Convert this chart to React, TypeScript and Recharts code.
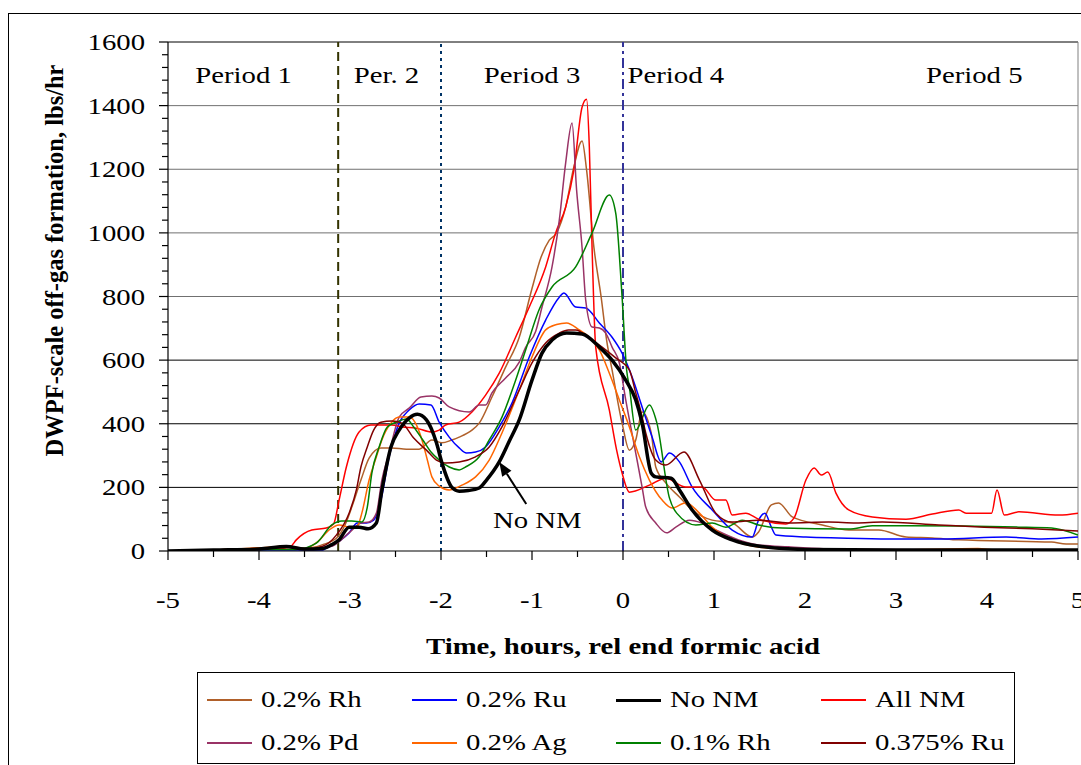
import React from 'react';
import { LineChart, Line, XAxis, YAxis, ReferenceLine, ReferenceDot } from 'recharts';

// time (h, relative to end of formic acid) vs off-gas rate (lbs/hr)
const rh02: [number, number][] = [
  [-5, 0], [-4.5, 3], [-4, 8], [-3.7, 12], [-3.5, 8], [-3.3, 20], [-3.15, 40], [-3.05, 85], [-2.98, 138],
  [-2.88, 223], [-2.79, 292], [-2.66, 324], [-2.54, 324], [-2.38, 320], [-2.24, 320], [-2.1, 349], [-1.99, 340],
  [-1.88, 349], [-1.8, 358], [-1.66, 380], [-1.58, 402], [-1.44, 484], [-1.29, 578], [-1.14, 672], [-1.0, 825],
  [-0.9, 924], [-0.81, 977], [-0.73, 1000], [-0.63, 1081], [-0.54, 1207], [-0.45, 1289], [-0.4, 1197],
  [-0.32, 955], [-0.24, 798], [-0.18, 663], [-0.12, 569], [-0.01, 402], [0.07, 317], [0.14, 349], [0.21, 437],
  [0.31, 371], [0.36, 264], [0.47, 214], [0.62, 170], [0.76, 129], [0.98, 97], [1.2, 88], [1.42, 44], [1.49, 60],
  [1.63, 145], [1.71, 151], [1.86, 107], [2.19, 82], [2.48, 66], [2.81, 66], [3.11, 44], [3.4, 41], [3.69, 35],
  [4.71, 28], [4.87, 22], [5, 22],
];
const ru02: [number, number][] = [
  [-5, 0], [-4, 3], [-3.5, 3], [-3.3, 3], [-3.26, 9], [-3.1, 35], [-3.01, 57], [-2.92, 88], [-2.82, 88],
  [-2.74, 97], [-2.66, 160], [-2.57, 296], [-2.46, 402], [-2.35, 443], [-2.24, 462], [-2.11, 459], [-2.02, 405],
  [-1.91, 358], [-1.8, 324], [-1.72, 308], [-1.62, 311], [-1.51, 327], [-1.36, 390], [-1.22, 465], [-1.03, 610],
  [-0.85, 726], [-0.7, 798], [-0.65, 811], [-0.52, 767], [-0.41, 764], [-0.26, 717], [-0.12, 672], [-0.01, 622],
  [0.1, 547], [0.21, 453], [0.32, 358], [0.42, 280], [0.51, 308], [0.62, 280], [0.76, 201], [0.98, 129],
  [1.2, 66], [1.42, 44], [1.49, 97], [1.56, 119], [1.63, 75], [1.68, 50], [2.01, 44], [2.37, 41], [2.92, 38],
  [3.5, 38], [4.21, 44], [4.6, 38], [5, 44],
];
const noNm: [number, number][] = [
  [-5, 0], [-4.5, 3], [-4, 6], [-3.7, 14], [-3.5, 6], [-3.3, 8], [-3.2, 20], [-3.12, 35], [-3.01, 75], [-2.9, 75],
  [-2.8, 70], [-2.71, 88], [-2.65, 190], [-2.55, 327], [-2.46, 380], [-2.35, 418], [-2.26, 430], [-2.16, 412],
  [-2.05, 340], [-1.99, 277], [-1.88, 200], [-1.8, 188], [-1.7, 190], [-1.58, 198], [-1.5, 223], [-1.36, 280],
  [-1.25, 345], [-1.14, 412], [-1.0, 537], [-0.89, 622], [-0.78, 663], [-0.62, 685], [-0.45, 682], [-0.26, 641],
  [-0.12, 600], [0.03, 537], [0.14, 475], [0.21, 402], [0.31, 245], [0.36, 233], [0.53, 229], [0.62, 192],
  [0.76, 129], [0.98, 66], [1.2, 35], [1.5, 15], [2, 5], [3, 3], [4, 3], [5, 3],
];
const allNm: [number, number][] = [
  [-5, 0], [-4.5, 3], [-4, 5], [-3.75, 8], [-3.65, 15], [-3.59, 35], [-3.42, 66], [-3.26, 72], [-3.18, 85],
  [-3.12, 160], [-3.04, 264], [-2.9, 374], [-2.77, 396], [-2.54, 396], [-2.43, 390], [-2.27, 386], [-2.1, 374],
  [-2.02, 380], [-1.95, 396], [-1.8, 405], [-1.66, 437], [-1.51, 490], [-1.36, 559], [-1.18, 672], [-1.03, 767],
  [-0.85, 893], [-0.74, 1000], [-0.63, 1081], [-0.54, 1197], [-0.45, 1395], [-0.4, 1420], [-0.37, 1270],
  [-0.34, 955], [-0.3, 641], [-0.15, 443], [-0.07, 317], [-0.01, 245], [0.07, 185], [0.29, 207], [0.47, 229],
  [0.69, 201], [0.87, 201], [1.02, 160], [1.13, 160], [1.2, 113], [1.35, 119], [1.49, 100], [1.79, 85],
  [1.88, 104], [2.01, 223], [2.1, 261], [2.18, 239], [2.25, 248], [2.34, 182], [2.48, 129], [2.74, 107],
  [3.11, 100], [3.4, 116], [3.69, 129], [3.77, 119], [4.05, 119], [4.11, 192], [4.19, 113], [4.35, 123],
  [4.79, 113], [5, 119],
];
const pd02: [number, number][] = [
  [-5, 0], [-4.5, 3], [-4, 8], [-3.7, 12], [-3.5, 5], [-3.2, 15], [-3.0, 60], [-2.88, 88], [-2.79, 91],
  [-2.71, 119], [-2.65, 223], [-2.57, 308], [-2.46, 421], [-2.35, 449], [-2.22, 484], [-2.1, 487], [-2.02, 481],
  [-1.91, 453], [-1.69, 437], [-1.58, 459], [-1.51, 459], [-1.44, 497], [-1.29, 544], [-1.14, 594], [-1.07, 640],
  [-0.96, 690], [-0.89, 767], [-0.78, 893], [-0.7, 1040], [-0.63, 1220], [-0.56, 1345], [-0.51, 1135],
  [-0.45, 955], [-0.41, 789], [-0.34, 704], [-0.26, 701], [-0.19, 685], [-0.12, 641], [-0.04, 591], [0.03, 475],
  [0.14, 308], [0.21, 201], [0.25, 138], [0.36, 88], [0.48, 57], [0.58, 75], [0.73, 97], [0.87, 88], [1.02, 66],
  [1.27, 35], [1.49, 19], [1.82, 13], [2.5, 5], [5, 3],
];
const ag02: [number, number][] = [
  [-5, 0], [-4.5, 3], [-4, 10], [-3.7, 15], [-3.5, 8], [-3.35, 30], [-3.23, 66], [-3.12, 82], [-3.01, 75],
  [-2.93, 72], [-2.87, 119], [-2.79, 223], [-2.71, 296], [-2.65, 349], [-2.55, 402], [-2.46, 421], [-2.35, 421],
  [-2.26, 390], [-2.2, 340], [-2.15, 286], [-2.1, 233], [-2.02, 204], [-1.91, 192], [-1.77, 207], [-1.62, 233],
  [-1.47, 286], [-1.33, 371], [-1.14, 506], [-1.0, 610], [-0.85, 695], [-0.73, 712], [-0.62, 717], [-0.48, 695],
  [-0.37, 672], [-0.26, 632], [-0.15, 559], [-0.04, 475], [0.07, 390], [0.18, 296], [0.29, 223], [0.43, 160],
  [0.54, 135], [0.69, 152], [0.84, 119], [0.98, 75], [1.2, 35], [1.5, 12], [2, 5], [3, 3], [3.9, 8], [4.1, 3],
  [5, 3],
];
const rh01: [number, number][] = [
  [-5, 0], [-4.5, 2], [-4, 5], [-3.6, 5], [-3.37, 25], [-3.2, 82], [-3.09, 94], [-2.98, 94], [-2.87, 91],
  [-2.81, 138], [-2.76, 245], [-2.68, 327], [-2.59, 390], [-2.49, 405], [-2.38, 415], [-2.3, 390], [-2.2, 349],
  [-2.11, 311], [-2.02, 286], [-1.91, 264], [-1.8, 255], [-1.73, 264], [-1.58, 296], [-1.47, 349], [-1.33, 421],
  [-1.18, 537], [-1.07, 632], [-0.92, 760], [-0.78, 830], [-0.52, 893], [-0.34, 1000], [-0.15, 1119],
  [-0.08, 1062], [-0.01, 798], [0.04, 569], [0.07, 515], [0.14, 380], [0.29, 459], [0.37, 405], [0.51, 167],
  [0.59, 119], [0.8, 82], [0.98, 88], [1.13, 75], [1.31, 97], [1.49, 82], [1.75, 72], [2.48, 69], [2.74, 79],
  [3.11, 79], [4.35, 75], [4.71, 72], [5, 50],
];
const ru0375: [number, number][] = [
  [-5, 0], [-4.5, 3], [-4, 8], [-3.7, 12], [-3.5, 5], [-3.3, 15], [-3.15, 50], [-3.01, 119], [-2.93, 192],
  [-2.88, 264], [-2.81, 327], [-2.74, 380], [-2.66, 405], [-2.54, 409], [-2.43, 402], [-2.3, 355], [-2.16, 317],
  [-2.05, 286], [-1.95, 277], [-1.8, 280], [-1.62, 296], [-1.47, 327], [-1.33, 390], [-1.14, 506], [-1.0, 591],
  [-0.85, 654], [-0.7, 685], [-0.6, 695], [-0.52, 695], [-0.37, 669], [-0.23, 641], [-0.08, 607], [0.07, 569],
  [0.14, 497], [0.2, 434], [0.25, 371], [0.36, 286], [0.47, 270], [0.67, 311], [0.84, 223], [1.02, 119],
  [1.2, 91], [1.49, 97], [1.82, 88], [2.26, 91], [2.56, 88], [2.85, 91], [3.47, 82], [3.97, 75], [4.5, 70],
  [5, 63],
];

const xTicks = [-5, -4.5, -4, -3.5, -3, -2.5, -2, -1.5, -1, -0.5, 0, 0.5, 1, 1.5, 2, 2.5, 3, 3.5, 4, 4.5, 5];
const yLabels = [0, 200, 400, 600, 800, 1000, 1200, 1400, 1600];
const yTicks = Array.from({ length: 41 }, (_, i) => i * 40);

const periodNames = ['Period 1', 'Per. 2', 'Period 3', 'Period 4', 'Period 5'];
const periodCenters = [-4.17, -2.6, -1.0, 0.58, 3.86];
const periodLabelY = 1496;
const noNmArrowTip = { x: -1.36, y: 280 };

const FONT = "'Liberation Serif', 'Times New Roman', serif";
const SX = 1.25; // the original's text is stretched sideways

const series = [
  { name: '0.2% Rh', pts: rh02, color: '#B0602A', width: 1.5 },
  { name: '0.2% Ru', pts: ru02, color: '#0000FF', width: 1.5 },
  { name: 'No NM', pts: noNm, color: '#000000', width: 3.5 },
  { name: 'All NM', pts: allNm, color: '#FF0000', width: 1.5 },
  { name: '0.2% Pd', pts: pd02, color: '#993366', width: 1.5 },
  { name: '0.2% Ag', pts: ag02, color: '#FF6600', width: 1.5 },
  { name: '0.1% Rh', pts: rh01, color: '#008000', width: 1.5 },
  { name: '0.375% Ru', pts: ru0375, color: '#800000', width: 1.5 },
];

function Txt({ x, y, anchor = 'middle', size = 23, bold = false, children }: any) {
  return (
    <text
      transform={`translate(${x},${y}) scale(${SX},1)`}
      textAnchor={anchor}
      fontFamily={FONT}
      fontSize={size}
      fontWeight={bold ? 'bold' : 'normal'}
      fill="#000"
    >
      {children}
    </text>
  );
}

function XTick({ x, y, payload }: any) {
  const v = payload.value;
  const major = Number.isInteger(v);
  return (
    <g>
      <line x1={x} x2={x} y1={y} y2={y + (major ? 9 : 6)} stroke="#000" strokeWidth={1.2} />
      {major && <Txt x={x} y={y + 57}>{String(v)}</Txt>}
    </g>
  );
}

function YTick({ x, y, payload }: any) {
  const v = payload.value;
  const major = v % 200 === 0;
  return (
    <g>
      <line x1={x - (major ? 9 : 6)} x2={x} y1={y} y2={y} stroke="#000" strokeWidth={1.2} />
      {major && <Txt x={x - 23} y={y + 8} anchor="end">{String(v)}</Txt>}
    </g>
  );
}

const xTitle = (p: any) => {
  const vb = p.viewBox || { x: 159, y: 537, width: 910, height: 60 };
  return (
    <Txt x={vb.x + vb.width / 2} y={vb.y + 103} bold>
      Time, hours, rel end formic acid
    </Txt>
  );
};

const yTitle = (p: any) => {
  const vb = p.viewBox || { x: 99, y: 28, width: 60, height: 509 };
  const cx = vb.x + vb.width - 105;
  const cy = vb.y + vb.height / 2 - 36;
  return (
    <text
      x={cx}
      y={cy}
      transform={`rotate(-90, ${cx}, ${cy})`}
      textAnchor="middle"
      fontFamily={FONT}
      fontWeight="bold"
      fontSize={24.5}
      fill="#000"
    >
      DWPF-scale off-gas formation, lbs/hr
    </text>
  );
};

function ArrowNote({ cx, cy }: any) {
  if (cx == null || cy == null) return null;
  const tx = cx + 27, ty = cy + 42;
  const len = Math.hypot(tx - cx, ty - cy);
  const ux = (cx - tx) / len, uy = (cy - ty) / len;
  const bx = cx - 14 * ux, by = cy - 14 * uy;
  const nx = -uy, ny = ux;
  return (
    <g>
      <line x1={tx} y1={ty} x2={bx} y2={by} stroke="#000" strokeWidth={2} />
      <polygon
        points={`${cx},${cy} ${bx + 5.5 * nx},${by + 5.5 * ny} ${bx - 5.5 * nx},${by - 5.5 * ny}`}
        fill="#000"
      />
      <Txt x={cx + 38} y={cy + 66}>No NM</Txt>
    </g>
  );
}

export default function App() {
  const drawOrder = [...series.filter((s) => s.name !== 'No NM'), ...series.filter((s) => s.name === 'No NM')];
  return (
    <div style={{ position: 'fixed', left: 0, top: 0, width: 1081, height: 765, overflow: 'hidden', background: '#fff' }}>
      <div
        style={{
          position: 'absolute',
          left: 8,
          top: 13,
          width: 1100,
          height: 800,
          border: '1px solid #000',
          boxSizing: 'border-box',
        }}
      >
        <LineChart width={1090} height={760} margin={{ top: 28, right: 21, left: 99, bottom: 163 }}>
          {yLabels.filter((v) => v > 0).map((v) => (
            <ReferenceLine key={v} y={v} stroke={v >= 800 && v < 1600 ? '#707070' : '#000'} strokeWidth={1} />
          ))}
          <ReferenceLine x={5} stroke="#808080" strokeWidth={1} />
          <ReferenceLine x={-3.13} stroke="#333300" strokeWidth={2} strokeDasharray="9 5" />
          <ReferenceLine x={-2} stroke="#003366" strokeWidth={2} strokeDasharray="3 4" />
          <ReferenceLine x={0} stroke="#333399" strokeWidth={2} strokeDasharray="10 4 3 4" />
          <XAxis
            dataKey="x"
            type="number"
            domain={[-5, 5]}
            ticks={xTicks}
            interval={0}
            tickSize={0}
            tickMargin={0}
            tickLine={false}
            tick={<XTick />}
            axisLine={{ stroke: '#000', strokeWidth: 1.2 }}
            height={60}
            allowDataOverflow
            label={xTitle}
          />
          <YAxis
            type="number"
            domain={[0, 1600]}
            ticks={yTicks}
            interval={0}
            tickSize={0}
            tickMargin={0}
            tickLine={false}
            tick={<YTick />}
            axisLine={{ stroke: '#000', strokeWidth: 1.2 }}
            width={60}
            allowDataOverflow
            label={yTitle}
          />
          {drawOrder.map((s) => (
            <Line
              key={s.name}
              data={s.pts.map(([x, y]) => ({ x, y }))}
              dataKey="y"
              name={s.name}
              type="monotone"
              stroke={s.color}
              strokeWidth={s.width}
              dot={false}
              activeDot={false}
              isAnimationActive={false}
            />
          ))}
          {periodNames.map((name, i) => (
            <ReferenceDot
              key={name}
              x={periodCenters[i]}
              y={periodLabelY}
              r={0}
              ifOverflow="visible"
              shape={(p: any) => <Txt x={p.cx} y={p.cy + 8}>{name}</Txt>}
            />
          ))}
          <ReferenceDot
            x={noNmArrowTip.x}
            y={noNmArrowTip.y}
            r={0}
            ifOverflow="visible"
            shape={(p: any) => <ArrowNote cx={p.cx} cy={p.cy} />}
          />
        </LineChart>

        <div
          style={{
            position: 'absolute',
            left: 188,
            top: 658,
            width: 818,
            height: 92,
            border: '1px solid #000',
            boxSizing: 'border-box',
            background: '#fff',
          }}
        >
          {series.map((s, i) => {
            const col = i % 4;
            const row = Math.floor(i / 4);
            const left = 9 + col * 204.7;
            const mid = row === 0 ? 27 : 70;
            const h = s.width > 2 ? 3 : 2;
            return (
              <React.Fragment key={s.name}>
                <div
                  style={{
                    position: 'absolute',
                    left,
                    top: mid - h / 2,
                    width: 45,
                    height: h,
                    background: s.color,
                  }}
                />
                <div
                  style={{
                    position: 'absolute',
                    left: left + 54,
                    top: mid - 14,
                    fontFamily: FONT,
                    fontSize: 23,
                    lineHeight: '28px',
                    whiteSpace: 'nowrap',
                    transform: `scaleX(${SX})`,
                    transformOrigin: 'left center',
                    color: '#000',
                  }}
                >
                  {s.name}
                </div>
              </React.Fragment>
            );
          })}
        </div>
      </div>
    </div>
  );
}
